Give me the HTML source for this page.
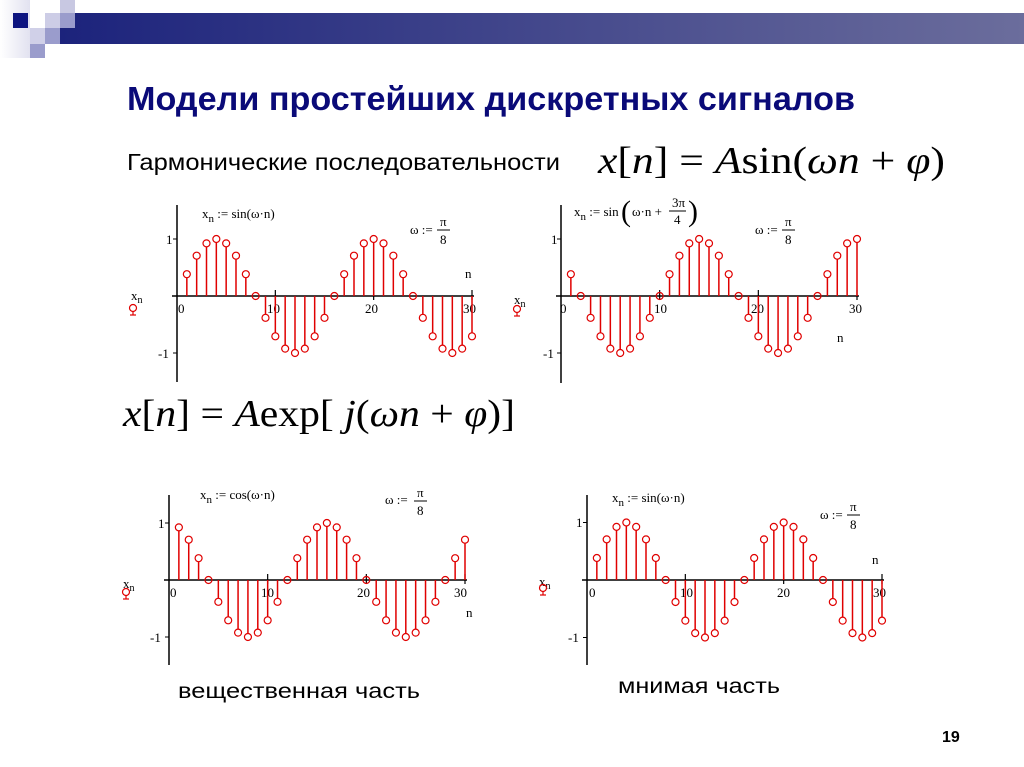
<!DOCTYPE html>
<html><head><meta charset="utf-8"><style>
html,body{margin:0;padding:0;background:#fff;}
svg{display:block;}
.t{font-family:"Liberation Sans",sans-serif;}
.s{font-family:"Liberation Serif",serif;}
.ax{font-family:"Liberation Serif",serif;font-size:13px;fill:#000;}
</style></head><body>
<svg id="sv" width="1024" height="767" viewBox="0 0 1024 767" xmlns="http://www.w3.org/2000/svg">
<defs><linearGradient id="bar" x1="0" x2="1" y1="0" y2="0"><stop offset="0" stop-color="#1c237c"/><stop offset="1" stop-color="#6b6d9c"/></linearGradient>
<linearGradient id="lf" x1="0" x2="1"><stop offset="0" stop-color="#ffffff"/><stop offset="1" stop-color="#e2e2f0"/></linearGradient></defs>
<rect x="0" y="0" width="30" height="58" fill="url(#lf)"/>
<rect x="60" y="13" width="964" height="31" fill="url(#bar)"/>
<rect x="13" y="13" width="15" height="15" fill="#0d1480"/>
<rect x="60" y="0" width="15" height="13" fill="#c8c8e2"/>
<rect x="45" y="13" width="15" height="15" fill="#cdcde6"/>
<rect x="60" y="13" width="15" height="15" fill="#9a9ccc"/>
<rect x="30" y="28" width="15" height="16" fill="#d0d0e8"/>
<rect x="45" y="28" width="15" height="16" fill="#9a9ccc"/>
<rect x="30" y="44" width="15" height="14" fill="#9a9ccc"/>

<text class="t" x="127" y="110" font-size="33" font-weight="bold" fill="#0a0a78" textLength="728" lengthAdjust="spacingAndGlyphs">Модели простейших дискретных сигналов</text>
<text class="t" x="127" y="170" font-size="23" fill="#000" textLength="433" lengthAdjust="spacingAndGlyphs">Гармонические последовательности</text>
<text class="s" x="598" y="173" font-size="38" fill="#000" textLength="347" lengthAdjust="spacingAndGlyphs"><tspan font-style="italic">x</tspan>[<tspan font-style="italic">n</tspan>] = <tspan font-style="italic">A</tspan>sin(<tspan font-style="italic">ωn</tspan> + <tspan font-style="italic">φ</tspan>)</text>
<text class="s" x="123" y="426" font-size="38" fill="#000" textLength="392" lengthAdjust="spacingAndGlyphs"><tspan font-style="italic">x</tspan>[<tspan font-style="italic">n</tspan>] = <tspan font-style="italic">A</tspan>exp[ <tspan font-style="italic">j</tspan>(<tspan font-style="italic">ωn</tspan> + <tspan font-style="italic">φ</tspan>)]</text>
<text class="t" x="178" y="698" font-size="21" fill="#000" textLength="242" lengthAdjust="spacingAndGlyphs">вещественная часть</text>
<text class="t" x="618" y="693" font-size="21" fill="#000" textLength="162" lengthAdjust="spacingAndGlyphs">мнимая часть</text>
<text class="t" x="942" y="742" font-size="16" font-weight="bold" fill="#000">19</text>

<g class="ax">
<text x="202" y="218">x<tspan font-size="11" dy="4">n</tspan><tspan dy="-4"> := sin(ω·n)</tspan></text>
<text x="410" y="234">ω :=</text><text x="440" y="226">π</text><line x1="437" y1="230" x2="450" y2="230" stroke="#000"/><text x="440" y="244">8</text>
<text x="465" y="278">n</text>
<text x="166" y="244">1</text><text x="158" y="358">-1</text>
<text x="178" y="313">0</text><text x="267" y="313">10</text><text x="365" y="313">20</text><text x="463" y="313">30</text>
<text x="131" y="300">x<tspan font-size="10" dy="3">n</tspan></text>

<text x="574" y="216">x<tspan font-size="11" dy="4">n</tspan><tspan dy="-4"> := sin</tspan></text><text x="621" y="221" font-size="30">(</text><text x="632" y="216">ω·n + </text><text x="672" y="207">3π</text><line x1="669" y1="211" x2="686" y2="211" stroke="#000"/><text x="674" y="224">4</text><text x="688" y="221" font-size="30">)</text>
<text x="755" y="234">ω :=</text><text x="785" y="226">π</text><line x1="782" y1="230" x2="795" y2="230" stroke="#000"/><text x="785" y="244">8</text>
<text x="837" y="342">n</text>
<text x="551" y="244">1</text><text x="543" y="358">-1</text>
<text x="560" y="313">0</text><text x="654" y="313">10</text><text x="751" y="313">20</text><text x="849" y="313">30</text>
<text x="514" y="304">x<tspan font-size="10" dy="3">n</tspan></text>

<text x="200" y="499">x<tspan font-size="11" dy="4">n</tspan><tspan dy="-4"> := cos(ω·n)</tspan></text>
<text x="385" y="504">ω :=</text><text x="417" y="497">π</text><line x1="414" y1="501" x2="427" y2="501" stroke="#000"/><text x="417" y="515">8</text>
<text x="466" y="617">n</text>
<text x="158" y="528">1</text><text x="150" y="642">-1</text>
<text x="170" y="597">0</text><text x="261" y="597">10</text><text x="357" y="597">20</text><text x="454" y="597">30</text>
<text x="123" y="588">x<tspan font-size="10" dy="3">n</tspan></text>

<text x="612" y="502">x<tspan font-size="11" dy="4">n</tspan><tspan dy="-4"> := sin(ω·n)</tspan></text>
<text x="820" y="519">ω :=</text><text x="850" y="511">π</text><line x1="847" y1="515" x2="860" y2="515" stroke="#000"/><text x="850" y="529">8</text>
<text x="872" y="564">n</text>
<text x="576" y="527">1</text><text x="568" y="642">-1</text>
<text x="589" y="597">0</text><text x="680" y="597">10</text><text x="777" y="597">20</text><text x="873" y="597">30</text>
<text x="539" y="586">x<tspan font-size="10" dy="3">n</tspan></text>
</g>
<g id="plots"></g>
</svg>
<script>
(function(){
var g=document.getElementById('plots'),NS='http://www.w3.org/2000/svg';
function el(n,a){var e=document.createElementNS(NS,n);for(var k in a)e.setAttribute(k,a[k]);g.appendChild(e);return e;}
var w=Math.PI/8;
var charts=[
 {ax:177,x30:472,zy:296,a:57,top:205,bot:382,f:function(n){return Math.sin(w*n);},lx:133,ly:310},
 {ax:561,x30:857,zy:296,a:57,top:205,bot:383,f:function(n){return Math.sin(w*n+3*Math.PI/4);},lx:517,ly:311},
 {ax:169,x30:465,zy:580,a:57,top:495,bot:665,f:function(n){return Math.cos(w*n);},lx:126,ly:594},
 {ax:587,x30:882,zy:580,a:57.5,top:495,bot:665,f:function(n){return Math.sin(w*n);},lx:543,ly:590}
];
charts.forEach(function(c){
 var dx=(c.x30-c.ax)/30;
 el('line',{x1:c.ax,y1:c.top,x2:c.ax,y2:c.bot,stroke:'#000','stroke-width':1.5});
 el('line',{x1:c.ax-5,y1:c.zy,x2:c.x30+2,y2:c.zy,stroke:'#000','stroke-width':1.5});
 el('line',{x1:c.ax-4,y1:c.zy-c.a,x2:c.ax,y2:c.zy-c.a,stroke:'#000'});
 el('line',{x1:c.ax-4,y1:c.zy+c.a,x2:c.ax,y2:c.zy+c.a,stroke:'#000'});
 [10,20,30].forEach(function(k){var x=c.ax+k*dx;el('line',{x1:x,y1:c.zy-6,x2:x,y2:c.zy+4,stroke:'#000','stroke-width':1.2});});
 for(var n=1;n<=30;n++){
  var x=c.ax+n*dx,v=c.f(n),y=c.zy-v*c.a;
  if(Math.abs(v)>0.05)el('line',{x1:x,y1:c.zy,x2:x,y2:y+(v>0?3.5:-3.5),stroke:'#e00000','stroke-width':1.5});
  el('circle',{cx:x,cy:y,r:3.5,fill:'none',stroke:'#e00000','stroke-width':1.2});
 }
 el('circle',{cx:c.lx,cy:c.ly-2,r:3.5,fill:'none',stroke:'#e00000','stroke-width':1.2});
 el('line',{x1:c.lx,y1:c.ly+1,x2:c.lx,y2:c.ly+5,stroke:'#e00000','stroke-width':1.2});
 el('line',{x1:c.lx-3,y1:c.ly+5,x2:c.lx+3,y2:c.ly+5,stroke:'#e00000','stroke-width':1.2});
});
})();
</script>
</body></html>
